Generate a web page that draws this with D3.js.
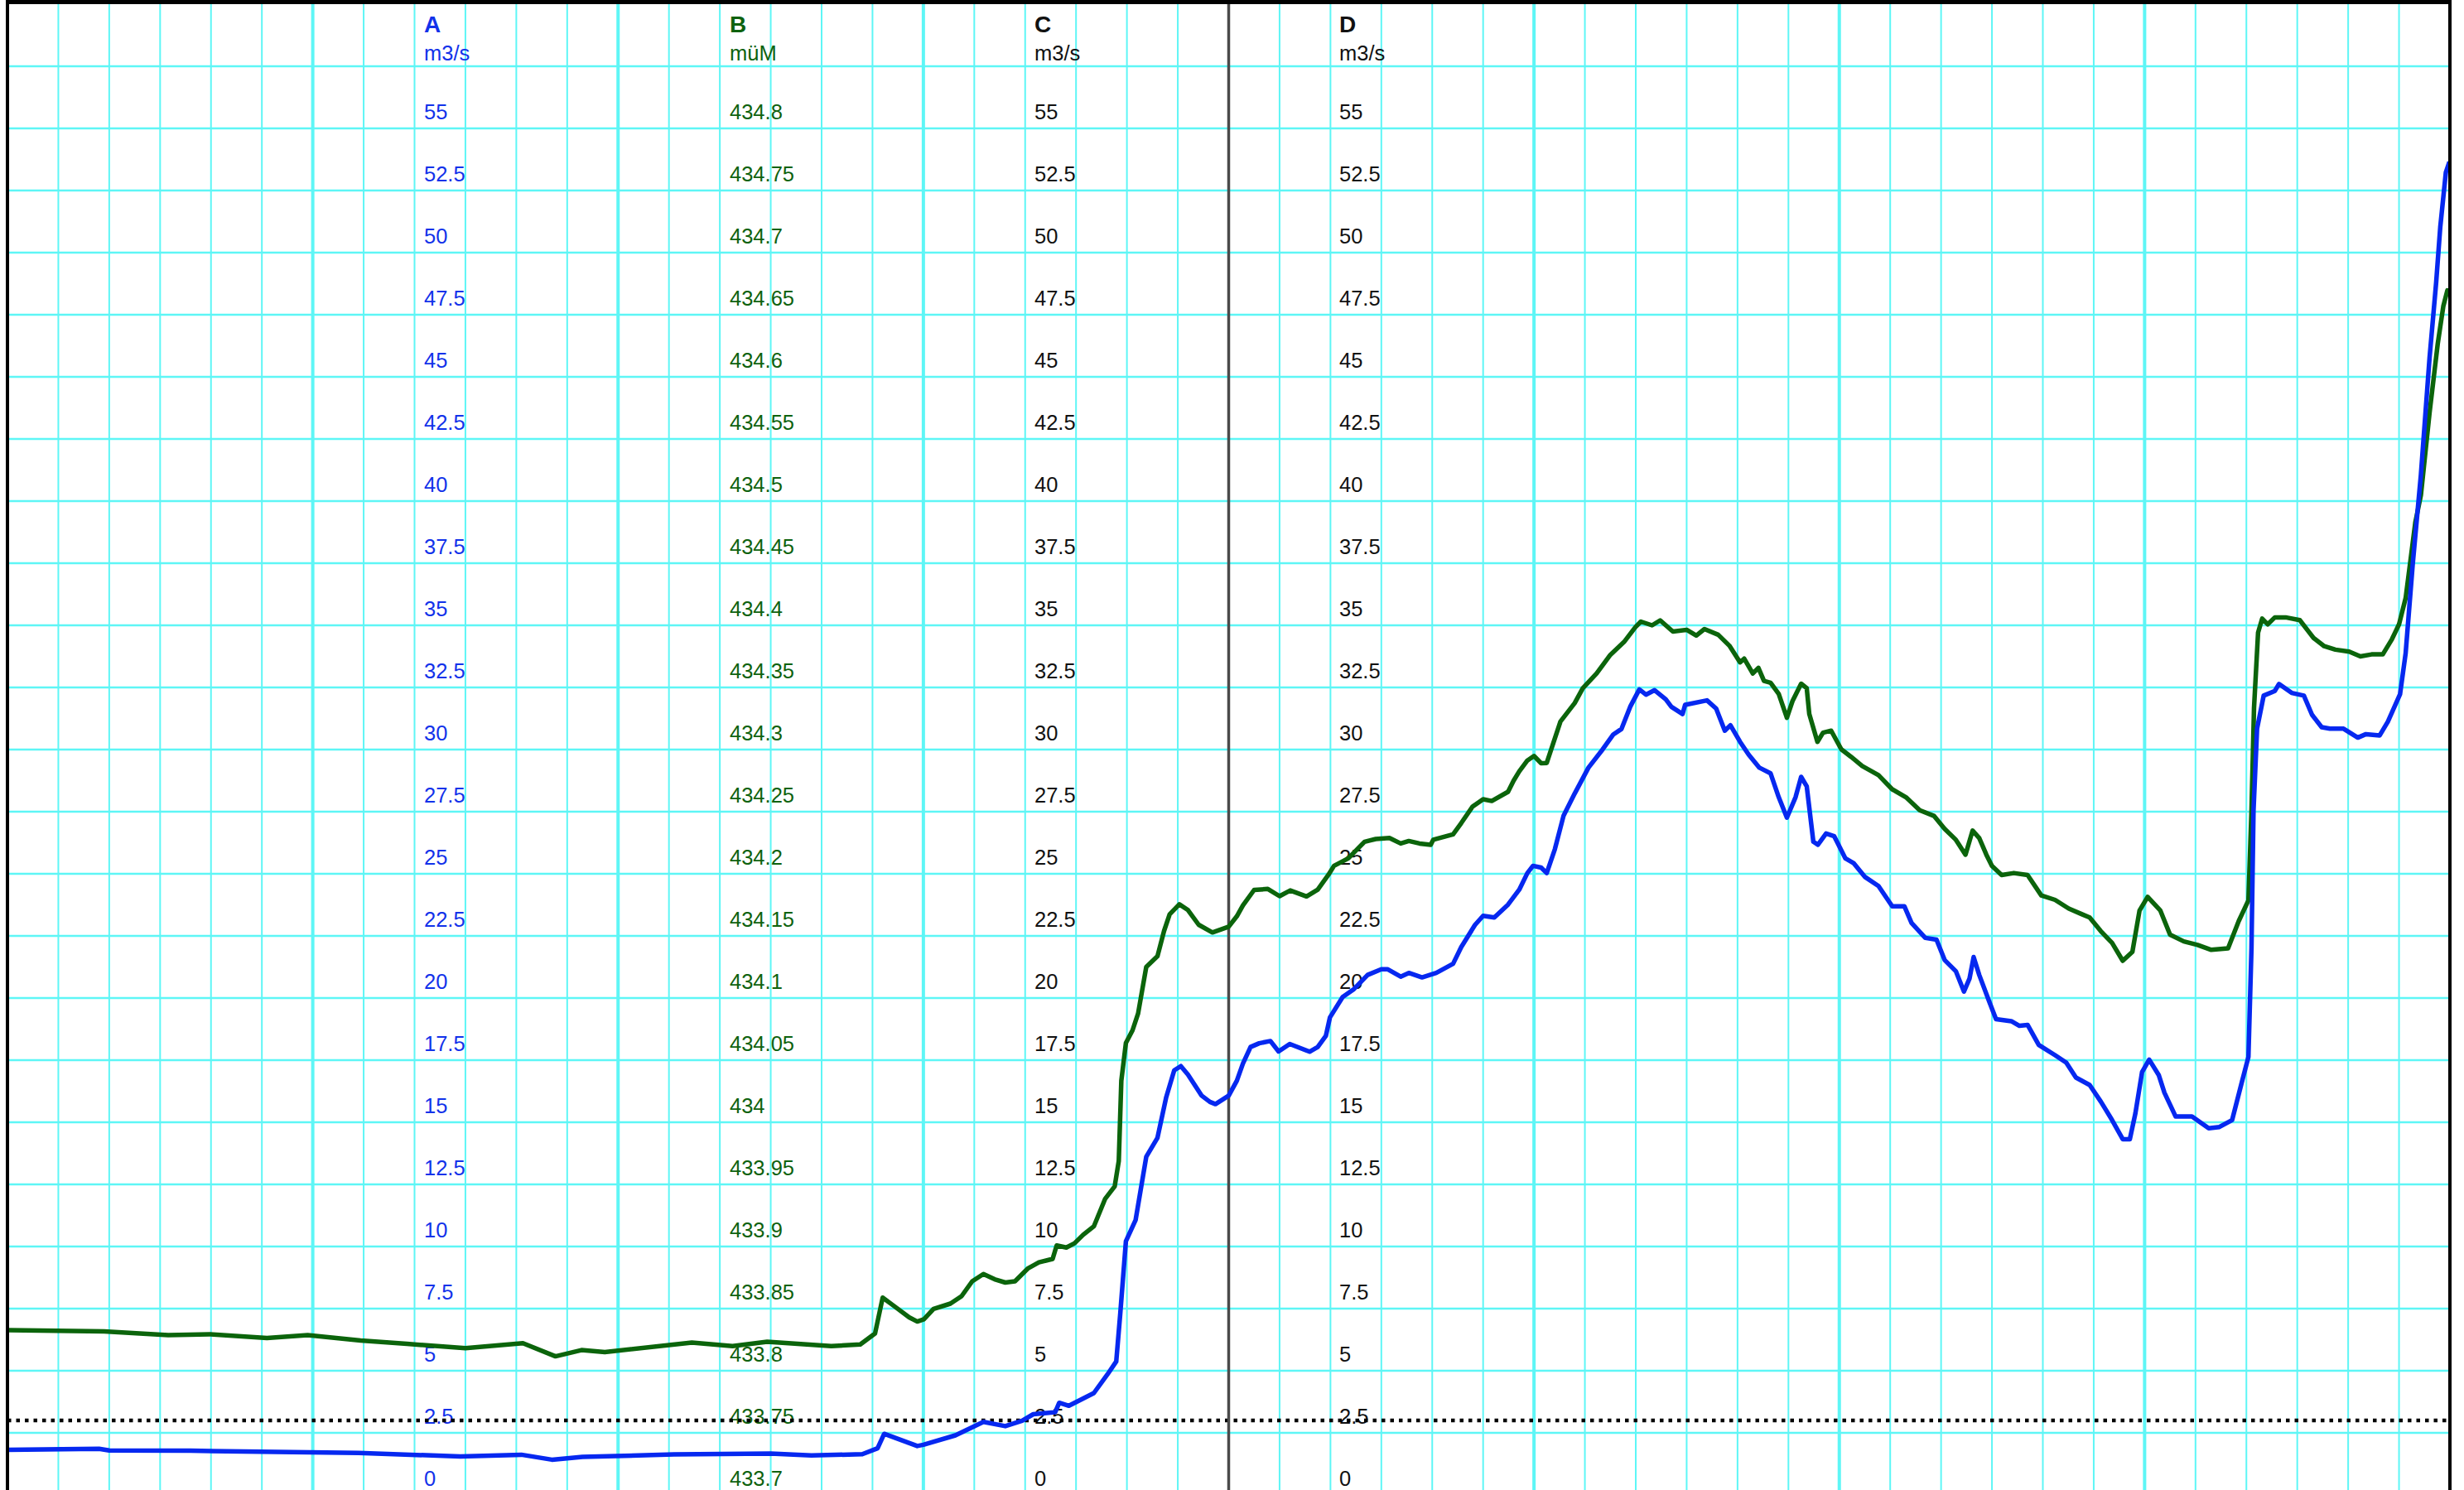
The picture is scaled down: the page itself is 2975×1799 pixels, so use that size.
<!DOCTYPE html>
<html>
<head>
<meta charset="utf-8">
<script src="https://cdn.jsdelivr.net/npm/d3@7"></script>
<style>
  body { margin: 0; background: #fff; }
  svg { display: block; font-family: "Liberation Sans", Arial, sans-serif; }
</style>
</head>
<body>
<div id="chart"></div>
<script>
// hours since start of the 48 h window
var flowHours = [0, 1.8, 2, 3.6, 6.9, 8.9, 10.1, 10.7, 11.3, 13.1, 15, 15.8, 16.8, 17.1, 17.23, 17.88, 18, 18.63, 19.18, 19.61, 19.94, 20.16, 20.59, 20.67, 20.86, 21.35, 21.62, 21.79, 21.87, 21.98, 22.17, 22.38, 22.6, 22.77, 22.93, 23.06, 23.2, 23.47, 23.63, 23.74, 24, 24.16, 24.28, 24.43, 24.6, 24.82, 24.98, 25.2, 25.59, 25.75, 25.91, 25.99, 26.24, 26.45, 26.73, 27, 27.12, 27.38, 27.54, 27.8, 28.08, 28.41, 28.57, 28.84, 29, 29.22, 29.49, 29.71, 29.87, 29.98, 30.14, 30.25, 30.41, 30.58, 30.8, 31.07, 31.35, 31.56, 31.72, 31.89, 32.07, 32.2, 32.37, 32.59, 32.7, 32.92, 32.97, 33.4, 33.58, 33.75, 33.86, 34.05, 34.22, 34.43, 34.65, 34.81, 34.97, 35.14, 35.25, 35.36, 35.49, 35.58, 35.74, 35.9, 36.12, 36.28, 36.5, 36.77, 37.04, 37.28, 37.42, 37.69, 37.91, 38.07, 38.29, 38.45, 38.56, 38.64, 38.75, 38.94, 39.08, 39.38, 39.54, 39.7, 39.92, 40.24, 40.46, 40.65, 40.92, 41.14, 41.36, 41.57, 41.71, 41.82, 41.95, 42.09, 42.28, 42.39, 42.61, 42.93, 43.26, 43.47, 43.72, 43.91, 44.04, 44.1, 44.14, 44.21, 44.34, 44.56, 44.64, 44.89, 45.13, 45.29, 45.48, 45.64, 45.91, 46.19, 46.35, 46.62, 46.78, 47.02, 47.13, 47.27, 47.43, 47.6, 47.73, 47.81, 47.92, 47.99];
// series A, m3/s
var flowValues = [1.82, 1.86, 1.79, 1.78, 1.69, 1.55, 1.62, 1.42, 1.53, 1.63, 1.67, 1.59, 1.64, 1.88, 2.46, 1.97, 2.02, 2.4, 2.94, 2.77, 2.99, 3.25, 3.33, 3.71, 3.59, 4.1, 4.86, 5.37, 7.32, 10.21, 11.06, 13.61, 14.37, 15.99, 17.09, 17.26, 16.92, 16.07, 15.82, 15.73, 16.07, 16.67, 17.36, 18.03, 18.18, 18.27, 17.85, 18.15, 17.84, 18.03, 18.48, 19.22, 20.04, 20.34, 20.93, 21.16, 21.16, 20.86, 21.01, 20.83, 21.01, 21.38, 22.05, 22.94, 23.31, 23.24, 23.76, 24.36, 25.03, 25.32, 25.25, 25.03, 25.99, 27.33, 28.23, 29.27, 30.01, 30.61, 30.83, 31.72, 32.42, 32.21, 32.39, 32.02, 31.72, 31.43, 31.8, 31.98, 31.65, 30.76, 30.98, 30.31, 29.79, 29.27, 29.04, 28.08, 27.26, 28.08, 28.9, 28.52, 26.29, 26.17, 26.62, 26.51, 25.62, 25.43, 24.88, 24.51, 23.69, 23.69, 23.02, 22.42, 22.35, 21.53, 21.08, 20.26, 20.79, 21.65, 20.93, 19.89, 19.15, 19.07, 18.88, 18.92, 18.11, 17.7, 17.4, 16.8, 16.5, 15.83, 15.09, 14.32, 14.32, 15.37, 17.02, 17.52, 16.89, 16.19, 15.23, 15.23, 14.76, 14.81, 15.09, 16.61, 17.63, 22, 27.53, 30.84, 32.17, 32.36, 32.64, 32.28, 32.17, 31.4, 30.9, 30.84, 30.84, 30.48, 30.62, 30.57, 31.12, 32.23, 33.88, 37.48, 41.07, 45.77, 48.81, 51.02, 53.23, 53.65];

var levelHours = [0.02, 1.9, 3.16, 3.97, 5.1, 5.9, 6.94, 7.85, 9, 10.13, 10.77, 11.28, 11.74, 13.45, 14.25, 14.93, 16.19, 16.76, 17.05, 17.2, 17.44, 17.72, 17.88, 18.01, 18.2, 18.53, 18.75, 18.96, 19.18, 19.4, 19.61, 19.8, 20.05, 20.27, 20.54, 20.62, 20.81, 20.97, 21.14, 21.35, 21.57, 21.76, 21.84, 21.89, 21.98, 22.11, 22.22, 22.38, 22.6, 22.73, 22.84, 23.03, 23.2, 23.41, 23.68, 24, 24.16, 24.28, 24.5, 24.77, 25, 25.21, 25.53, 25.75, 25.96, 26.07, 26.35, 26.67, 26.89, 27.16, 27.38, 27.54, 27.75, 27.97, 28.02, 28.41, 28.57, 28.79, 29, 29.17, 29.49, 29.6, 29.71, 29.87, 30, 30.14, 30.25, 30.52, 30.8, 30.96, 31.23, 31.5, 31.77, 31.99, 32.1, 32.32, 32.48, 32.73, 33, 33.19, 33.35, 33.62, 33.84, 34.05, 34.13, 34.3, 34.41, 34.52, 34.65, 34.81, 34.97, 35.08, 35.25, 35.36, 35.41, 35.57, 35.68, 35.84, 36.04, 36.23, 36.45, 36.77, 37.04, 37.31, 37.58, 37.86, 38.07, 38.29, 38.48, 38.62, 38.75, 38.89, 39, 39.19, 39.43, 39.7, 39.97, 40.24, 40.51, 40.76, 40.92, 41.14, 41.36, 41.57, 41.76, 41.9, 42.06, 42.31, 42.5, 42.77, 43.04, 43.31, 43.64, 43.85, 44.04, 44.1, 44.15, 44.23, 44.31, 44.42, 44.56, 44.77, 45.05, 45.32, 45.53, 45.75, 46.02, 46.24, 46.46, 46.68, 46.86, 47, 47.13, 47.32, 47.43, 47.6, 47.76, 47.87, 47.95, 47.99];
// series B, müM
var levelValues = [433.8326, 433.8316, 433.8286, 433.8294, 433.8264, 433.8286, 433.8244, 433.8216, 433.8182, 433.8222, 433.8116, 433.8166, 433.815, 433.8226, 433.8198, 433.8234, 433.8198, 433.8212, 433.83, 433.8588, 433.8516, 433.843, 433.8396, 433.8414, 433.8498, 433.854, 433.86, 433.872, 433.8778, 433.8736, 433.871, 433.872, 433.8822, 433.8872, 433.89, 433.9008, 433.8992, 433.9026, 433.9094, 433.9162, 433.9382, 433.9484, 433.9688, 434.0334, 434.0638, 434.074, 434.0876, 434.125, 434.1336, 434.154, 434.1674, 434.1754, 434.1708, 434.159, 434.1528, 434.1574, 434.1658, 434.1746, 434.187, 434.1878, 434.182, 434.1866, 434.1818, 434.1872, 434.1992, 434.2064, 434.2124, 434.2258, 434.228, 434.2288, 434.2244, 434.2264, 434.2244, 434.2234, 434.2274, 434.2318, 434.2408, 434.254, 434.26, 434.2586, 434.266, 434.275, 434.2824, 434.2912, 434.2948, 434.289, 434.2892, 434.3226, 434.3374, 434.3494, 434.3612, 434.3762, 434.3866, 434.3984, 434.403, 434.4, 434.404, 434.395, 434.3964, 434.3918, 434.397, 434.3924, 434.3836, 434.3702, 434.3732, 434.3612, 434.3658, 434.3552, 434.3538, 434.3448, 434.3256, 434.339, 434.353, 434.3494, 434.3286, 434.3062, 434.3136, 434.3152, 434.3002, 434.2942, 434.2868, 434.2794, 434.268, 434.2616, 434.2512, 434.2466, 434.2362, 434.2274, 434.2154, 434.2348, 434.2288, 434.2154, 434.2064, 434.199, 434.2006, 434.199, 434.1826, 434.179, 434.172, 434.1676, 434.1648, 434.1538, 434.1444, 434.13, 434.1372, 434.1704, 434.1814, 434.1704, 434.151, 434.1456, 434.1428, 434.1388, 434.14, 434.162, 434.1786, 434.2506, 434.3334, 434.3942, 434.4054, 434.4008, 434.4064, 434.4064, 434.4042, 434.3898, 434.3832, 434.3804, 434.3788, 434.375, 434.3766, 434.3766, 434.3888, 434.4008, 434.422, 434.4828, 434.5048, 434.5712, 434.6264, 434.6568, 434.6696, 434.669];

var axisNames = ["A", "B", "C", "D"];
var axisUnits = ["m3/s", "müM", "m3/s", "m3/s"];
var flowTicks = [0, 2.5, 5, 7.5, 10, 12.5, 15, 17.5, 20, 22.5, 25, 27.5, 30, 32.5, 35, 37.5, 40, 42.5, 45, 47.5, 50, 52.5, 55];
var levelTicks = [433.7, 433.75, 433.8, 433.85, 433.9, 433.95, 434, 434.05, 434.1, 434.15, 434.2, 434.25, 434.3, 434.35, 434.4, 434.45, 434.5, 434.55, 434.6, 434.65, 434.7, 434.75, 434.8];
var thresholdFlow = 3;
var nowHour = 24;

var svgwidth = 2975;
var svgheight = 1799;
var plotLeft = 9, plotRight = 2958, plotTop = 5, plotBottom = 1805;

var svg = d3.select("#chart").append("svg").attr("width", svgwidth).attr("height", svgheight);
svg.append("rect").attr("width", svgwidth).attr("height", svgheight).attr("fill", "#fff");

var xscale = d3.scaleLinear().domain([0, 48]).range([plotLeft, plotRight]);
var yflow = d3.scaleLinear().domain([0, 60]).range([plotBottom, plotTop]);
var ylevel = d3.scaleLinear().domain([433.7, 434.9]).range([plotBottom, plotTop]);

svg.append("clipPath").attr("id", "plot").append("rect")
    .attr("x", plotLeft).attr("y", plotTop).attr("width", plotRight - plotLeft).attr("height", plotBottom - plotTop);

// grid
var hourLines = d3.range(1, 48).filter(h => h != nowHour);
svg.append("g").selectAll("line").data(hourLines).enter().append("line")
    .attr("x1", d => xscale(d)).attr("x2", d => xscale(d)).attr("y1", plotTop).attr("y2", svgheight)
    .attr("stroke", "#5ef6f6").attr("stroke-width", d => d % 6 == 0 ? 4 : 2);
svg.append("g").selectAll("line").data(d3.range(0, 60, 2.5)).enter().append("line")
    .attr("x1", plotLeft).attr("x2", plotRight).attr("y1", d => yflow(d)).attr("y2", d => yflow(d))
    .attr("stroke", "#5ef6f6").attr("stroke-width", 2.5);

// axis labels inside the plot
var axisX = [512, 881, 1249, 1617];
var axisColors = ["#1232ea", "#0e620e", "#111", "#111"];
axisNames.forEach(function(name, i) {
    var scale = i == 1 ? ylevel : yflow;
    var ticks = i == 1 ? levelTicks : flowTicks;
    var ax = d3.axisRight(scale).tickValues(ticks).tickSize(0).tickFormat(d3.format(""));
    var g = svg.append("g").attr("transform", `translate(${axisX[i]},0)`).call(ax);
    g.select(".domain").remove();
    g.selectAll("text").attr("x", 0).attr("dy", -12).attr("fill", axisColors[i])
        .attr("font-size", 25.5).attr("font-family", "Liberation Sans, Arial, sans-serif");
    svg.append("text").attr("x", axisX[i]).attr("y", 39).attr("fill", axisColors[i])
        .attr("font-size", 28).attr("font-weight", "bold").text(name);
    svg.append("text").attr("x", axisX[i]).attr("y", 73).attr("fill", axisColors[i])
        .attr("font-size", 25.5).text(axisUnits[i]);
});

// threshold and current time
svg.append("line").attr("x1", plotLeft).attr("x2", plotRight).attr("y1", yflow(thresholdFlow)).attr("y2", yflow(thresholdFlow))
    .attr("stroke", "#000").attr("stroke-width", 4.5).attr("stroke-dasharray", "4.5 6");
svg.append("line").attr("x1", xscale(nowHour)).attr("x2", xscale(nowHour)).attr("y1", plotTop).attr("y2", svgheight)
    .attr("stroke", "#4a4a4a").attr("stroke-width", 3.5);

var flowLine = d3.line().x((d, i) => xscale(flowHours[i])).y(d => yflow(d));
var levelLine = d3.line().x((d, i) => xscale(levelHours[i])).y(d => ylevel(d));

svg.append("path").datum(levelValues).attr("clip-path", "url(#plot)").attr("d", levelLine)
    .attr("fill", "none").attr("stroke", "#0b640b").attr("stroke-width", 5.5).attr("stroke-linejoin", "round");
svg.append("path").datum(flowValues).attr("clip-path", "url(#plot)").attr("d", flowLine)
    .attr("fill", "none").attr("stroke", "#0628f0").attr("stroke-width", 5.5).attr("stroke-linejoin", "round");

// frame
svg.append("line").attr("x1", 7).attr("x2", plotRight + 2).attr("y1", 2.5).attr("y2", 2.5).attr("stroke", "#000").attr("stroke-width", 5);
svg.append("line").attr("x1", plotLeft).attr("x2", plotLeft).attr("y1", 0).attr("y2", svgheight).attr("stroke", "#000").attr("stroke-width", 4);
svg.append("line").attr("x1", plotRight).attr("x2", plotRight).attr("y1", 0).attr("y2", svgheight).attr("stroke", "#000").attr("stroke-width", 4);
</script>
</body>
</html>
